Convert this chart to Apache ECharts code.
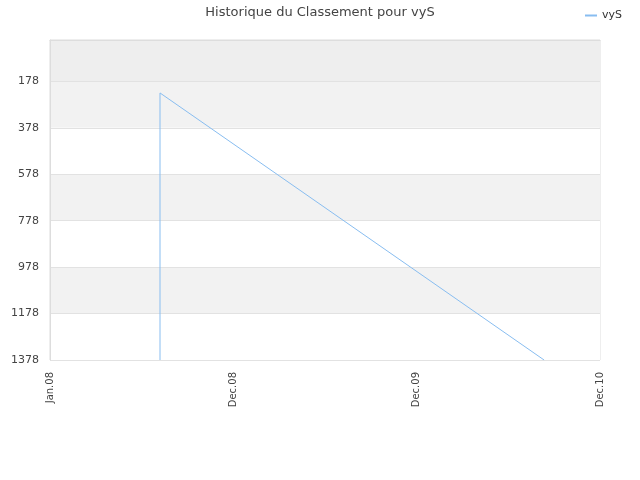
<!DOCTYPE html>
<html><head><meta charset="utf-8">
<script src="https://cdn.jsdelivr.net/npm/echarts@6/dist/echarts.min.js"></script>
<style>html,body{margin:0;padding:0;background:#fff}#c{width:640px;height:480px}</style>
</head><body><div id="c"></div>
<script>
const title = 'Historique du Classement pour vyS';
const seriesName = 'vyS';
const xTickLabels = ['Jan.08', 'Dec.08', 'Dec.09', 'Dec.10'];
const xValues = [0.6, 0.6, 2.695];
const rankValues = [1378, 228, 1378];
const yTicks = [178, 378, 578, 778, 978, 1178, 1378];

const chart = echarts.init(document.getElementById('c'));
chart.setOption({
  animation: false,
  backgroundColor: '#fff',
  textStyle: { fontFamily: 'DejaVu Sans' },
  title: { text: title, left: 'center', top: 1, textStyle: { fontSize: 13, fontWeight: 'normal', color: '#444', fontFamily: 'DejaVu Sans' } },
  legend: { data: [seriesName], right: 13, top: 5, itemWidth: 12, itemHeight: 2, itemGap: 6, icon: 'rect', textStyle: { fontSize: 11, color: '#333' } },
  grid: { left: 50, right: 40, top: 40, bottom: 120, show: true, borderColor: '#ddd', borderWidth: 1 },
  xAxis: {
    type: 'value', min: 0, max: 3, interval: 1,
    axisLine: { show: true, lineStyle: { color: '#ddd' } },
    axisTick: { show: false },
    splitLine: { show: false },
    axisLabel: { rotate: 90, fontSize: 10, color: '#444', margin: 12, formatter: v => xTickLabels[Math.round(v)] }
  },
  yAxis: {
    type: 'value', inverse: true, min: 0, max: 1378,
    axisLine: { show: true, lineStyle: { color: '#ddd' } },
    axisTick: { show: false, customValues: [0].concat(yTicks) },
    axisLabel: { fontSize: 11, color: '#444', margin: 11, customValues: yTicks, formatter: v => String(v) },
    splitLine: { show: true, lineStyle: { color: '#e2e2e2' } },
    splitArea: { show: true, areaStyle: { color: ['#eeeeee', '#f2f2f2', '#ffffff', '#f2f2f2', '#ffffff', '#f2f2f2', '#ffffff'] } }
  },
  series: [{
    name: seriesName, type: 'line', showSymbol: false, symbol: 'none',
    lineStyle: { color: '#88bdf0', width: 1 }, itemStyle: { color: '#88bdf0' },
    data: xValues.map((x, i) => [x, rankValues[i]])
  }]
});
</script></body></html>
